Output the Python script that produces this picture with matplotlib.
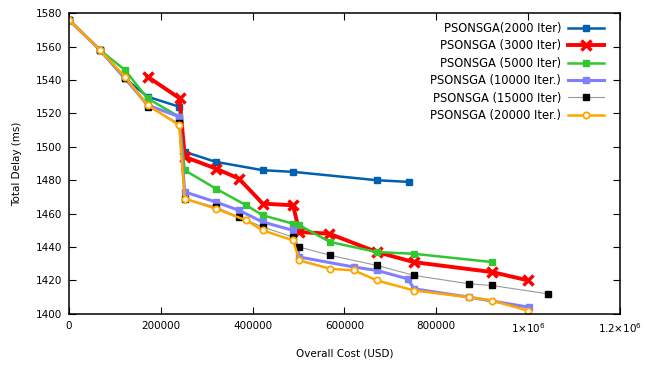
import matplotlib

matplotlib.use("Agg")
import matplotlib.pyplot as plt

# --- data ---
iter2000_cost = [0, 67000, 121700, 171000, 240000, 252000, 319600, 422000, 489000, 671000, 740000]
iter2000_delay = [1576, 1558, 1541, 1530, 1524, 1497, 1491, 1486, 1485, 1480, 1479]

iter3000_cost = [171000, 241000, 252000, 319600, 370000, 422000, 488000, 502000, 567000, 671000, 751000, 922500, 1000700]
iter3000_delay = [1542, 1529, 1494, 1487, 1481, 1466, 1465, 1449, 1448, 1437, 1431, 1425, 1420]

iter5000_cost = [0, 67000, 121700, 171000, 240000, 252000, 319600, 386000, 422000, 488000, 502000, 569000, 671000, 751000, 922500]
iter5000_delay = [1576, 1558, 1546, 1529, 1518, 1486, 1475, 1465, 1459, 1454, 1453, 1443, 1437, 1436, 1431]

iter10000_cost = [0, 67000, 121700, 171000, 240000, 252000, 319600, 370000, 422000, 488000, 502000, 621700, 671000, 737700, 752000, 871800, 1002000]
iter10000_delay = [1576, 1558, 1541, 1525, 1518, 1473, 1467, 1462, 1455, 1450, 1434, 1428, 1426, 1421, 1415, 1410, 1404]

iter15000_cost = [0, 67000, 121700, 171000, 240000, 252000, 319600, 370000, 422000, 488000, 502000, 569600, 671000, 752000, 871800, 921000, 1043500]
iter15000_delay = [1576, 1558, 1541, 1524, 1514, 1469, 1464, 1458, 1452, 1446, 1440, 1435, 1429, 1423, 1418, 1417, 1412]

iter20000_cost = [0, 67000, 121700, 171000, 240000, 252000, 319600, 386000, 422000, 488000, 502000, 569600, 621700, 671000, 752000, 871800, 921000, 1000000]
iter20000_delay = [1576, 1558, 1542, 1525, 1513, 1469, 1463, 1456, 1450, 1444, 1432, 1427, 1426, 1420, 1414, 1410, 1408, 1402]

x_ticks = [0, 200000, 400000, 600000, 800000, 1000000, 1200000]
x_tick_labels = ["0", "200000", "400000", "600000", "800000",
                 r"1$\times$10$^{6}$", r"1.2$\times$10$^{6}$"]
y_ticks = [1400, 1420, 1440, 1460, 1480, 1500, 1520, 1540, 1560, 1580]

plt.rcParams["font.family"] = ["DejaVu Sans"]
plt.rcParams["mathtext.default"] = "regular"

fig = plt.figure(figsize=(6.45, 3.65), dpi=100)
ax = fig.add_axes([0.107, 0.140, 0.854, 0.824])

ax.plot(iter2000_cost, iter2000_delay, color="#0060ad", lw=1.8, marker="s", ms=4.5,
        label="PSONSGA(2000 Iter)")
ax.plot(iter3000_cost, iter3000_delay, color="#ff0000", lw=2.8, marker="x", ms=6.5, mew=2.5,
        label="PSONSGA (3000 Iter)")
ax.plot(iter5000_cost, iter5000_delay, color="#33c633", lw=1.8, marker="s", ms=4.5,
        label="PSONSGA (5000 Iter)")
ax.plot(iter10000_cost, iter10000_delay, color="#8080ff", lw=2.2, marker="s", ms=4.5,
        label="PSONSGA (10000 Iter.)")
ax.plot(iter15000_cost, iter15000_delay, color="#999999", lw=0.8, marker="s", ms=3.8,
        mfc="black", mec="black", label="PSONSGA (15000 Iter)")
ax.plot(iter20000_cost, iter20000_delay, color="#ffa500", lw=1.8, marker="o", ms=4.5,
        mfc="white", mec="#ffa500", mew=1.3, label="PSONSGA (20000 Iter.)")

ax.set_xlim(0, 1200000)
ax.set_ylim(1400, 1580)
ax.set_xticks(x_ticks)
ax.set_xticklabels(x_tick_labels)
ax.set_yticks(y_ticks)
ax.tick_params(direction="in", top=True, right=True, labelsize=7.5, length=5, pad=5)
for s in ax.spines.values():
    s.set_linewidth(1.1)

ax.set_xlabel("Overall Cost (USD)", fontsize=7.5, labelpad=10)
ax.set_ylabel("Total Delay (ms)", fontsize=7.5, labelpad=10)

ax.legend(loc="upper right", frameon=False, markerfirst=False, fontsize=8.3,
          handlelength=3.1, labelspacing=0.38, handletextpad=0.6,
          bbox_to_anchor=(0.99, 1.005))
for t in ax.get_legend().get_texts():
    t.set_ha("right")

fig.savefig("out.png", dpi=100)
